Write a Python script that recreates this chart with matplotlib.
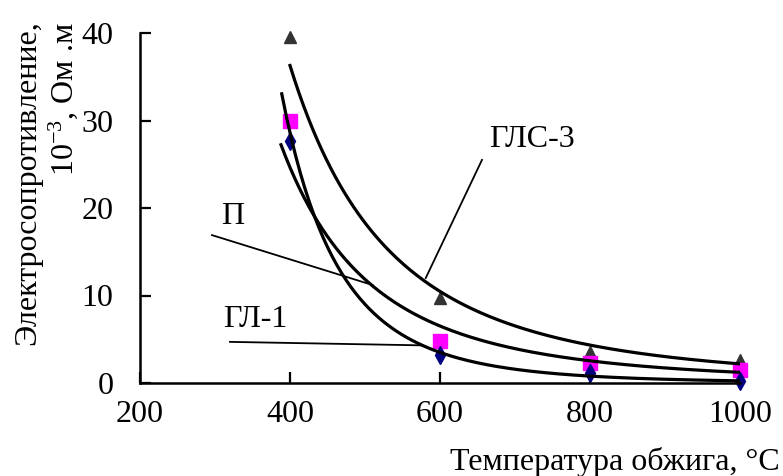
import numpy as np
import matplotlib
matplotlib.use("Agg")
import matplotlib.pyplot as plt

# data
temp = [400, 600, 800, 1000]
gls3 = [39.6, 9.7, 3.6, 2.6]    # triangles
p_ = [29.9, 4.8, 2.3, 1.5]      # squares
gl1 = [27.7, 3.2, 1.1, 0.2]     # diamonds

plt.rcParams['font.family'] = ['Liberation Serif', 'DejaVu Serif']
plt.rcParams['mathtext.fontset'] = 'custom'
plt.rcParams['mathtext.rm'] = 'Liberation Serif'
plt.rcParams['mathtext.it'] = 'Liberation Serif:italic'

fig = plt.figure(figsize=(7.83, 4.76), dpi=100)
ax = fig.add_axes([140/783, 93/476, 600/783, 350/476])

x = np.array(temp, float)

# markers first, trend lines on top
ax.plot(temp, gls3, ls='none', marker='^', ms=9, color='#333333', zorder=2, clip_on=False)
ax.plot(temp, p_, ls='none', marker='s', ms=9.5, color='#FF00FF', zorder=2, clip_on=False)
ax.plot(temp, gl1, ls='none', marker='d', ms=9, color='#000080', zorder=2, clip_on=False)

# power trend lines (like excel), fitted on the data
for y, x0 in [(gls3, 400), (p_, 388), (gl1, 389)]:
    b, lna = np.polyfit(np.log(x), np.log(np.array(y)), 1)
    xx = np.linspace(x0, 1000, 200)
    ax.plot(xx, np.exp(lna) * xx ** b, color='black', lw=2.3, zorder=3)

ax.set_xlim(200, 1000)
ax.set_ylim(0, 40)
ax.set_xticks([200, 400, 600, 800, 1000])
ax.set_yticks([0, 10, 20, 30, 40])
for s in ['top', 'right']:
    ax.spines[s].set_visible(False)
for s in ['left', 'bottom']:
    ax.spines[s].set_linewidth(1.8)
ax.tick_params(axis='both', direction='in', length=8, width=1.6, labelsize=23)
ax.tick_params(axis='y', pad=19)
ax.tick_params(axis='x', pad=12)

# curve labels with leader lines
ax.text(324, 19.0, 'П', fontsize=23, ha='center', va='center')
ax.plot([296, 510], [16.9, 11.2], color='black', lw=1.3)
ax.text(353, 7.3, 'ГЛ-1', fontsize=23, ha='center', va='center')
ax.plot([320, 577], [4.7, 4.3], color='black', lw=1.3)
ax.text(723, 27.8, 'ГЛС-3', fontsize=23, ha='center', va='center')
ax.plot([656, 581], [25.5, 12.0], color='black', lw=1.3)

fig.text(28/783, 1 - 20/476, 'Электросопротивление,', rotation=90,
         fontsize=23, ha='center', va='top')
fig.text(63/783, 1 - 22/476, '$10^{-3}$, Ом .м', rotation=90,
         fontsize=23, ha='center', va='top')
fig.text(780/783, 1 - 462/476, 'Температура обжига, °С', fontsize=23,
         ha='right', va='center')

fig.savefig('out.png', dpi=100)
